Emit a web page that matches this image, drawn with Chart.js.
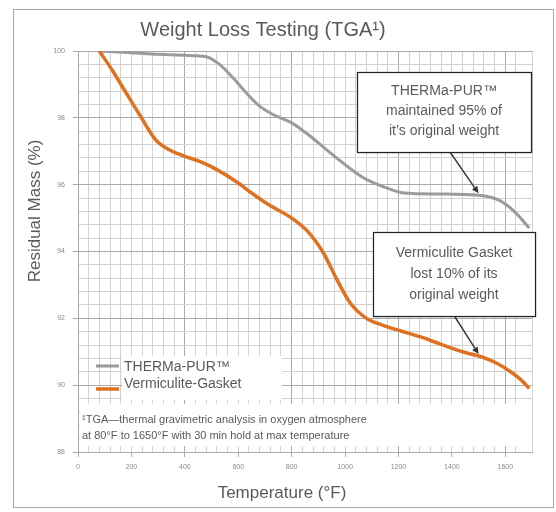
<!DOCTYPE html>
<html>
<head>
<meta charset="utf-8">
<script src="https://cdn.jsdelivr.net/npm/chart.js@4.4.1/dist/chart.umd.min.js"></script>
<style>
html,body{margin:0;padding:0;background:#fff;}
#wrap{position:relative;width:556px;height:512px;}
canvas{display:block;}
</style>
</head>
<body>
<div id="wrap"><canvas id="c" width="556" height="512"></canvas></div>
<script>
// ---- data ----
const chartTitle = "Weight Loss Testing (TGA\u00B9)";
const xTitle = "Temperature (\u00B0F)";
const yTitle = "Residual Mass (%)";
const seriesNames = ["THERMa-PUR\u2122", "Vermiculite-Gasket"];

const thermaTemp = [80, 200, 300, 400, 480, 530, 580, 630, 680, 730, 800, 870, 930, 1000, 1070, 1140, 1220, 1350, 1500, 1580, 1640, 1690];
const thermaMass = [100, 99.95, 99.9, 99.87, 99.83, 99.6, 99.2, 98.75, 98.35, 98.1, 97.85, 97.45, 97.05, 96.6, 96.2, 95.95, 95.75, 95.72, 95.68, 95.52, 95.15, 94.7];

const vermTemp = [80, 130, 180, 230, 290, 340, 400, 460, 520, 600, 650, 710, 800, 860, 920, 970, 1020, 1080, 1140, 1210, 1280, 1360, 1440, 1510, 1570, 1620, 1660, 1690];
const vermMass = [100, 99.4, 98.75, 98.1, 97.35, 97.05, 96.85, 96.68, 96.45, 96.05, 95.75, 95.42, 95.0, 94.6, 93.94, 93.15, 92.45, 92.0, 91.8, 91.62, 91.45, 91.22, 91.0, 90.85, 90.65, 90.4, 90.15, 89.9];

const xMin = 0, xMax = 1700, xMinorStep = 40, xLabelStep = 200;
const yMin = 88, yMax = 100, yMinorStep = 0.4, yLabelStep = 2;

const note1 = ["THERMa-PUR\u2122", "maintained 95% of", "it\u2019s original weight"];
const note1Target = [1500, 95.68];
const note2 = ["Vermiculite Gasket", "lost 10% of its", "original weight"];
const note2Target = [1500, 90.87];
const footnote = ["\u00B9TGA\u2014thermal gravimetric analysis in oxygen atmosphere", "at 80\u00B0F to 1650\u00B0F with 30 min hold at max temperature"];

// ---- styles ----
const GREY = "#9b9b9b";
const ORANGE = "#de7222";
const TEXT = "#5a5a5a";
const FONT = "'Liberation Sans', Arial, sans-serif";

function toPts(xs, ys){ return xs.map((x,i)=>({x:x, y:ys[i]})); }

function near(v, step){ return Math.abs(v/step - Math.round(v/step)) < 1e-6; }

const overlay = {
  id: 'overlay',
  beforeDatasetsDraw(chart){
    const ctx = chart.ctx;
    ctx.save();
    ctx.fillStyle = '#fff';
    // legend text background
    ctx.fillRect(122, 356, 160, 44);
    // footnote background
    ctx.fillRect(80, 404, 452, 42);
    ctx.restore();
  },
  afterDraw(chart){
    const ctx = chart.ctx;
    const xs = chart.scales.x, ys = chart.scales.y;
    ctx.save();
    // outer border
    ctx.strokeStyle = '#a8a8a8';
    ctx.lineWidth = 1;
    ctx.strokeRect(13.5, 9.5, 540, 498);

    ctx.fillStyle = TEXT;
    ctx.textAlign = 'center';
    ctx.textBaseline = 'middle';
    // title
    ctx.font = "20px " + FONT;
    ctx.fillText(chartTitle, 263, 30);
    // x title
    ctx.font = "17px " + FONT;
    ctx.fillText(xTitle, 282, 493);
    // y title
    ctx.save();
    ctx.translate(35, 211);
    ctx.rotate(-Math.PI/2);
    ctx.fillText(yTitle, 0, 0);
    ctx.restore();

    // legend
    ctx.lineWidth = 3;
    ctx.strokeStyle = GREY;
    ctx.beginPath(); ctx.moveTo(96, 366); ctx.lineTo(119, 366); ctx.stroke();
    ctx.strokeStyle = ORANGE;
    ctx.lineWidth = 3.5;
    ctx.beginPath(); ctx.moveTo(96, 389); ctx.lineTo(119, 389); ctx.stroke();
    ctx.textAlign = 'left';
    ctx.font = "14px " + FONT;
    ctx.fillStyle = TEXT;
    ctx.fillText(seriesNames[0], 124, 367);
    ctx.fillText(seriesNames[1], 124, 384);

    // footnote
    ctx.font = "11px " + FONT;
    ctx.fillText(footnote[0], 82, 420);
    ctx.fillText(footnote[1], 82, 436);

    // annotations
    function box(x, y, w, h, lines, lineY){
      ctx.save();
      ctx.shadowColor = 'rgba(0,0,0,0.25)';
      ctx.shadowBlur = 2;
      ctx.shadowOffsetX = 1; ctx.shadowOffsetY = 1;
      ctx.fillStyle = '#fff';
      ctx.fillRect(x, y, w, h);
      ctx.restore();
      ctx.strokeStyle = '#222';
      ctx.lineWidth = 1.2;
      ctx.strokeRect(x + 0.5, y + 0.5, w, h);
      ctx.fillStyle = TEXT;
      ctx.textAlign = 'center';
      ctx.font = "14px " + FONT;
      lines.forEach((t,i)=>ctx.fillText(t, x + w/2, lineY[i]));
    }
    function arrow(x1, y1, x2, y2){
      ctx.strokeStyle = '#333';
      ctx.fillStyle = '#333';
      ctx.lineWidth = 1.4;
      const a = Math.atan2(y2-y1, x2-x1);
      const hl = 7, hw = 3.2;
      const bx = x2 - hl*Math.cos(a), by = y2 - hl*Math.sin(a);
      ctx.beginPath(); ctx.moveTo(x1, y1); ctx.lineTo(bx, by); ctx.stroke();
      ctx.beginPath();
      ctx.moveTo(x2, y2);
      ctx.lineTo(bx + hw*Math.sin(a), by - hw*Math.cos(a));
      ctx.lineTo(bx - hw*Math.sin(a), by + hw*Math.cos(a));
      ctx.closePath(); ctx.fill();
    }
    const t1x = xs.getPixelForValue(note1Target[0]), t1y = ys.getPixelForValue(note1Target[1]) - 2;
    const t2x = xs.getPixelForValue(note2Target[0]), t2y = ys.getPixelForValue(note2Target[1]) - 2;
    arrow(450, 152, t1x, t1y);
    arrow(455, 317, t2x, t2y);
    box(357, 72, 174, 80, note1, [91, 111, 131]);
    box(373, 232, 162, 84, note2, [253, 274, 295]);
    ctx.restore();
  }
};

new Chart(document.getElementById('c'), {
  type: 'scatter',
  data: {
    datasets: [
      { label: seriesNames[0], data: toPts(thermaTemp, thermaMass), showLine: true, borderColor: GREY, backgroundColor: GREY, borderWidth: 3, pointRadius: 0, cubicInterpolationMode: 'monotone', order: 2 },
      { label: seriesNames[1], data: toPts(vermTemp, vermMass), showLine: true, borderColor: ORANGE, backgroundColor: ORANGE, borderWidth: 3.5, pointRadius: 0, cubicInterpolationMode: 'monotone', order: 1 }
    ]
  },
  options: {
    responsive: false,
    animation: false,
    devicePixelRatio: 1,
    layout: { padding: { left: 13, right: 24, top: 51, bottom: 40 } },
    plugins: { legend: { display: false }, title: { display: false }, tooltip: { enabled: false } },
    scales: {
      x: {
        type: 'linear', min: xMin, max: xMax,
        afterFit(s){ s.height = 20; },
        border: { display: true, color: '#aaa', width: 1 },
        grid: {
          color: (c)=> near(c.tick.value, 400) ? '#a9a9a9' : '#d2d2d2',
          lineWidth: 1,
          tickLength: 5,
          tickColor: (c)=> near(c.tick.value, xLabelStep) ? '#aaa' : 'rgba(0,0,0,0)'
        },
        ticks: {
          stepSize: xMinorStep, autoSkip: false, maxRotation: 0, padding: 6,
          color: '#8a8a8a', font: { size: 7, family: FONT },
          callback: (v)=> near(v, xLabelStep) ? String(Math.round(v)) : ''
        }
      },
      y: {
        type: 'linear', min: yMin, max: yMax,
        afterFit(s){ s.width = 65; },
        border: { display: true, color: '#aaa', width: 1 },
        grid: {
          color: (c)=> near(c.tick.value, yLabelStep) ? '#a9a9a9' : '#d2d2d2',
          lineWidth: 1,
          tickLength: 5,
          tickColor: (c)=> near(c.tick.value, yLabelStep) ? '#aaa' : 'rgba(0,0,0,0)'
        },
        ticks: {
          stepSize: yMinorStep, autoSkip: false, padding: 8,
          color: '#8a8a8a', font: { size: 7, family: FONT },
          callback: (v)=> near(v, yLabelStep) ? String(Math.round(v)) : ''
        }
      }
    }
  },
  plugins: [overlay]
});
</script>
</body>
</html>
